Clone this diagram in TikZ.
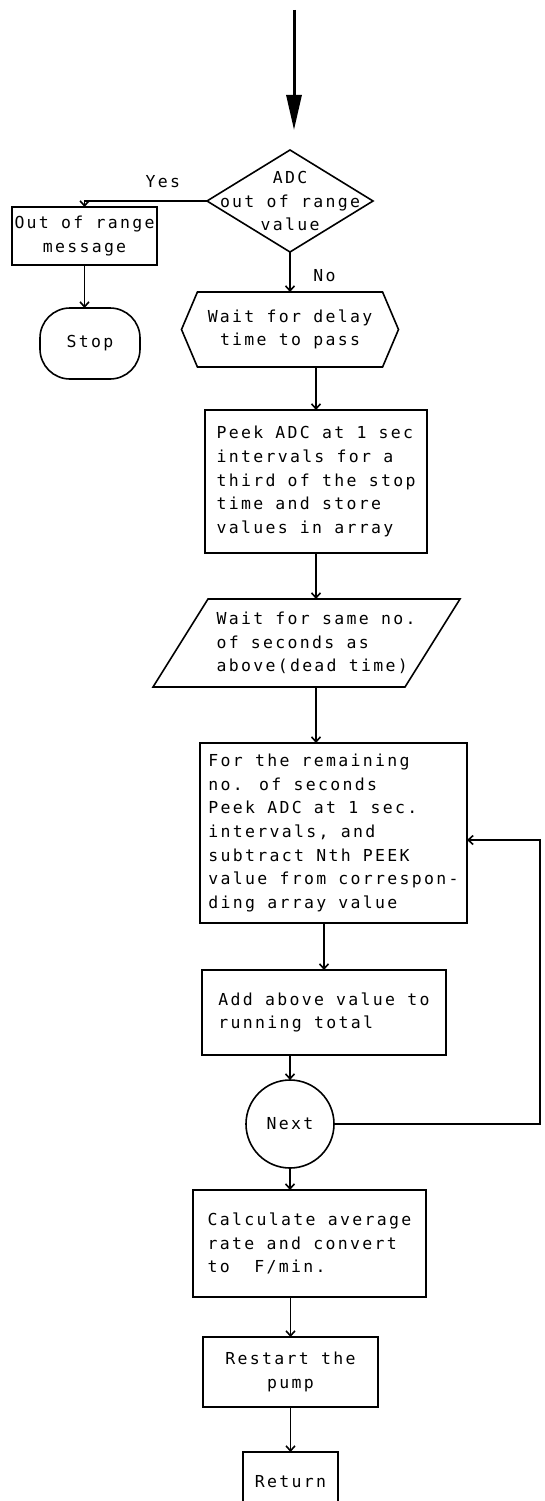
\documentclass[tikz,border=0pt]{standalone}
\usepackage{fontspec}
\newfontfamily\dotfont{DejaVu Sans Mono}[LetterSpace=14]
\usetikzlibrary{arrows.meta}
\usetikzlibrary{positioning}
\usetikzlibrary{shapes.geometric}
\usetikzlibrary{shapes.symbols}

\tikzset{
  chart/.style={font={\dotfont\fontsize{16.5pt}{23.7pt}\selectfont}, line width=1.6pt,
    every node/.append style={outer sep=0pt}},
  arr/.style={-{Straight Barb[length=5pt,width=9pt]}},
  entryarr/.style={line width=3pt, -{Triangle[length=35pt,width=15pt]}},
  box/.style={draw, rectangle, inner sep=4pt},
  decision/.style={draw, diamond, minimum width=166pt, minimum height=102pt, inner sep=0pt},
  waitbox/.style={draw, signal, signal to=west and east, signal pointer angle=134,
    minimum width=217pt, minimum height=75pt, align=center},
  iobox/.style={rectangle, minimum width=252pt, minimum height=88pt, align=left},
  terminal/.style={draw, rectangle, rounded corners=30pt, minimum width=100pt, minimum height=71pt},
  connector/.style={draw, circle, minimum size=88pt, inner sep=0pt}
}

\begin{document}
\begin{tikzpicture}[x=1pt, y=-1pt, chart]
    \useasboundingbox (0,0) rectangle (544,1501);

    \coordinate (top) at (294,10);
    \coordinate (entry) at (294,130);

    \node[decision, label={[align=center]center:{ADC\\out of range\\value}}] (dia) at (290,201) {};
    \node[box, inner xsep=0pt, minimum width=145pt, minimum height=58pt, align=center, left=50pt of dia, yshift=-35pt] (msg) {Out of range\\message};
    \node[terminal, below=43pt of msg, xshift=5.5pt] (stop) {Stop};

    \node[waitbox, below=40pt of dia] (delay) {Wait for delay\\time to pass};
    \node[box, minimum width=222pt, minimum height=143pt, align=left, below=43pt of delay, xshift=26pt] (peek)
      {Peek ADC at 1 sec\\intervals for a\\third of the stop\\time and store\\values in array};
    \node[iobox, below=46pt of peek] (para)
      {Wait for same no.\\of seconds as\\above(dead time)};
    \node[box, minimum width=267pt, minimum height=180pt, align=left, below=56pt of para, xshift=17.5pt] (remain)
      {For the remaining\\no. of seconds\\Peek ADC at 1 sec.\\intervals, and\\subtract Nth PEEK\\value from correspon-\\ding array value};
    \node[box, minimum width=244pt, minimum height=85pt, align=left, below=47pt of remain, xshift=-9.5pt] (add)
      {Add above value to\\running total};
    \node[connector, below=25pt of add, xshift=-34pt] (next) {Next};
    \node[box, minimum width=233pt, minimum height=107pt, align=left, below=22pt of next, xshift=19.5pt] (calc)
      {Calculate average\\rate and convert\\to~~F/min.};
    \node[box, minimum width=175pt, minimum height=70pt, align=center, below=40pt of calc, xshift=-19pt] (restart)
      {Restart the\\pump};
    \node[box, minimum width=95pt, minimum height=60pt, below=45pt of restart] (ret) {Return};

    % slanted outline of the input/output box
    \draw ([xshift=-37pt]para.south west) -- ([xshift=18pt]para.north west)
      -- ([xshift=18pt]para.north east) -- ([xshift=-37pt]para.south east) -- cycle;

    \coordinate (loopx) at (540,1000);

    \draw[entryarr] (top) -- (entry);
    \draw[arr] (dia.west) -| node[pos=0.18, above=10pt] {Yes} (msg.north);
    \draw[arr] (msg) -- (msg |- stop.north);
    \draw[arr] (dia) -- node[pos=0.6, right=20pt] {No} (dia |- delay.north);
    \draw[arr] (peek |- delay.south) -- (peek);
    \draw[arr] (peek) -- (peek |- para.north);
    \draw[arr] (para) -- (para |- remain.north);
    \draw[arr] (add |- remain.south) -- (add);
    \draw[arr] (next |- add.south) -- (next);
    \draw[arr] (next) -- (next |- calc.north);
    \draw[arr] (restart |- calc.south) -- (restart);
    \draw[arr] (restart) -- (restart |- ret.north);
    \draw[arr] (next.east) -| (loopx) |- ([yshift=-7pt]remain.east);
\end{tikzpicture}
\end{document}
